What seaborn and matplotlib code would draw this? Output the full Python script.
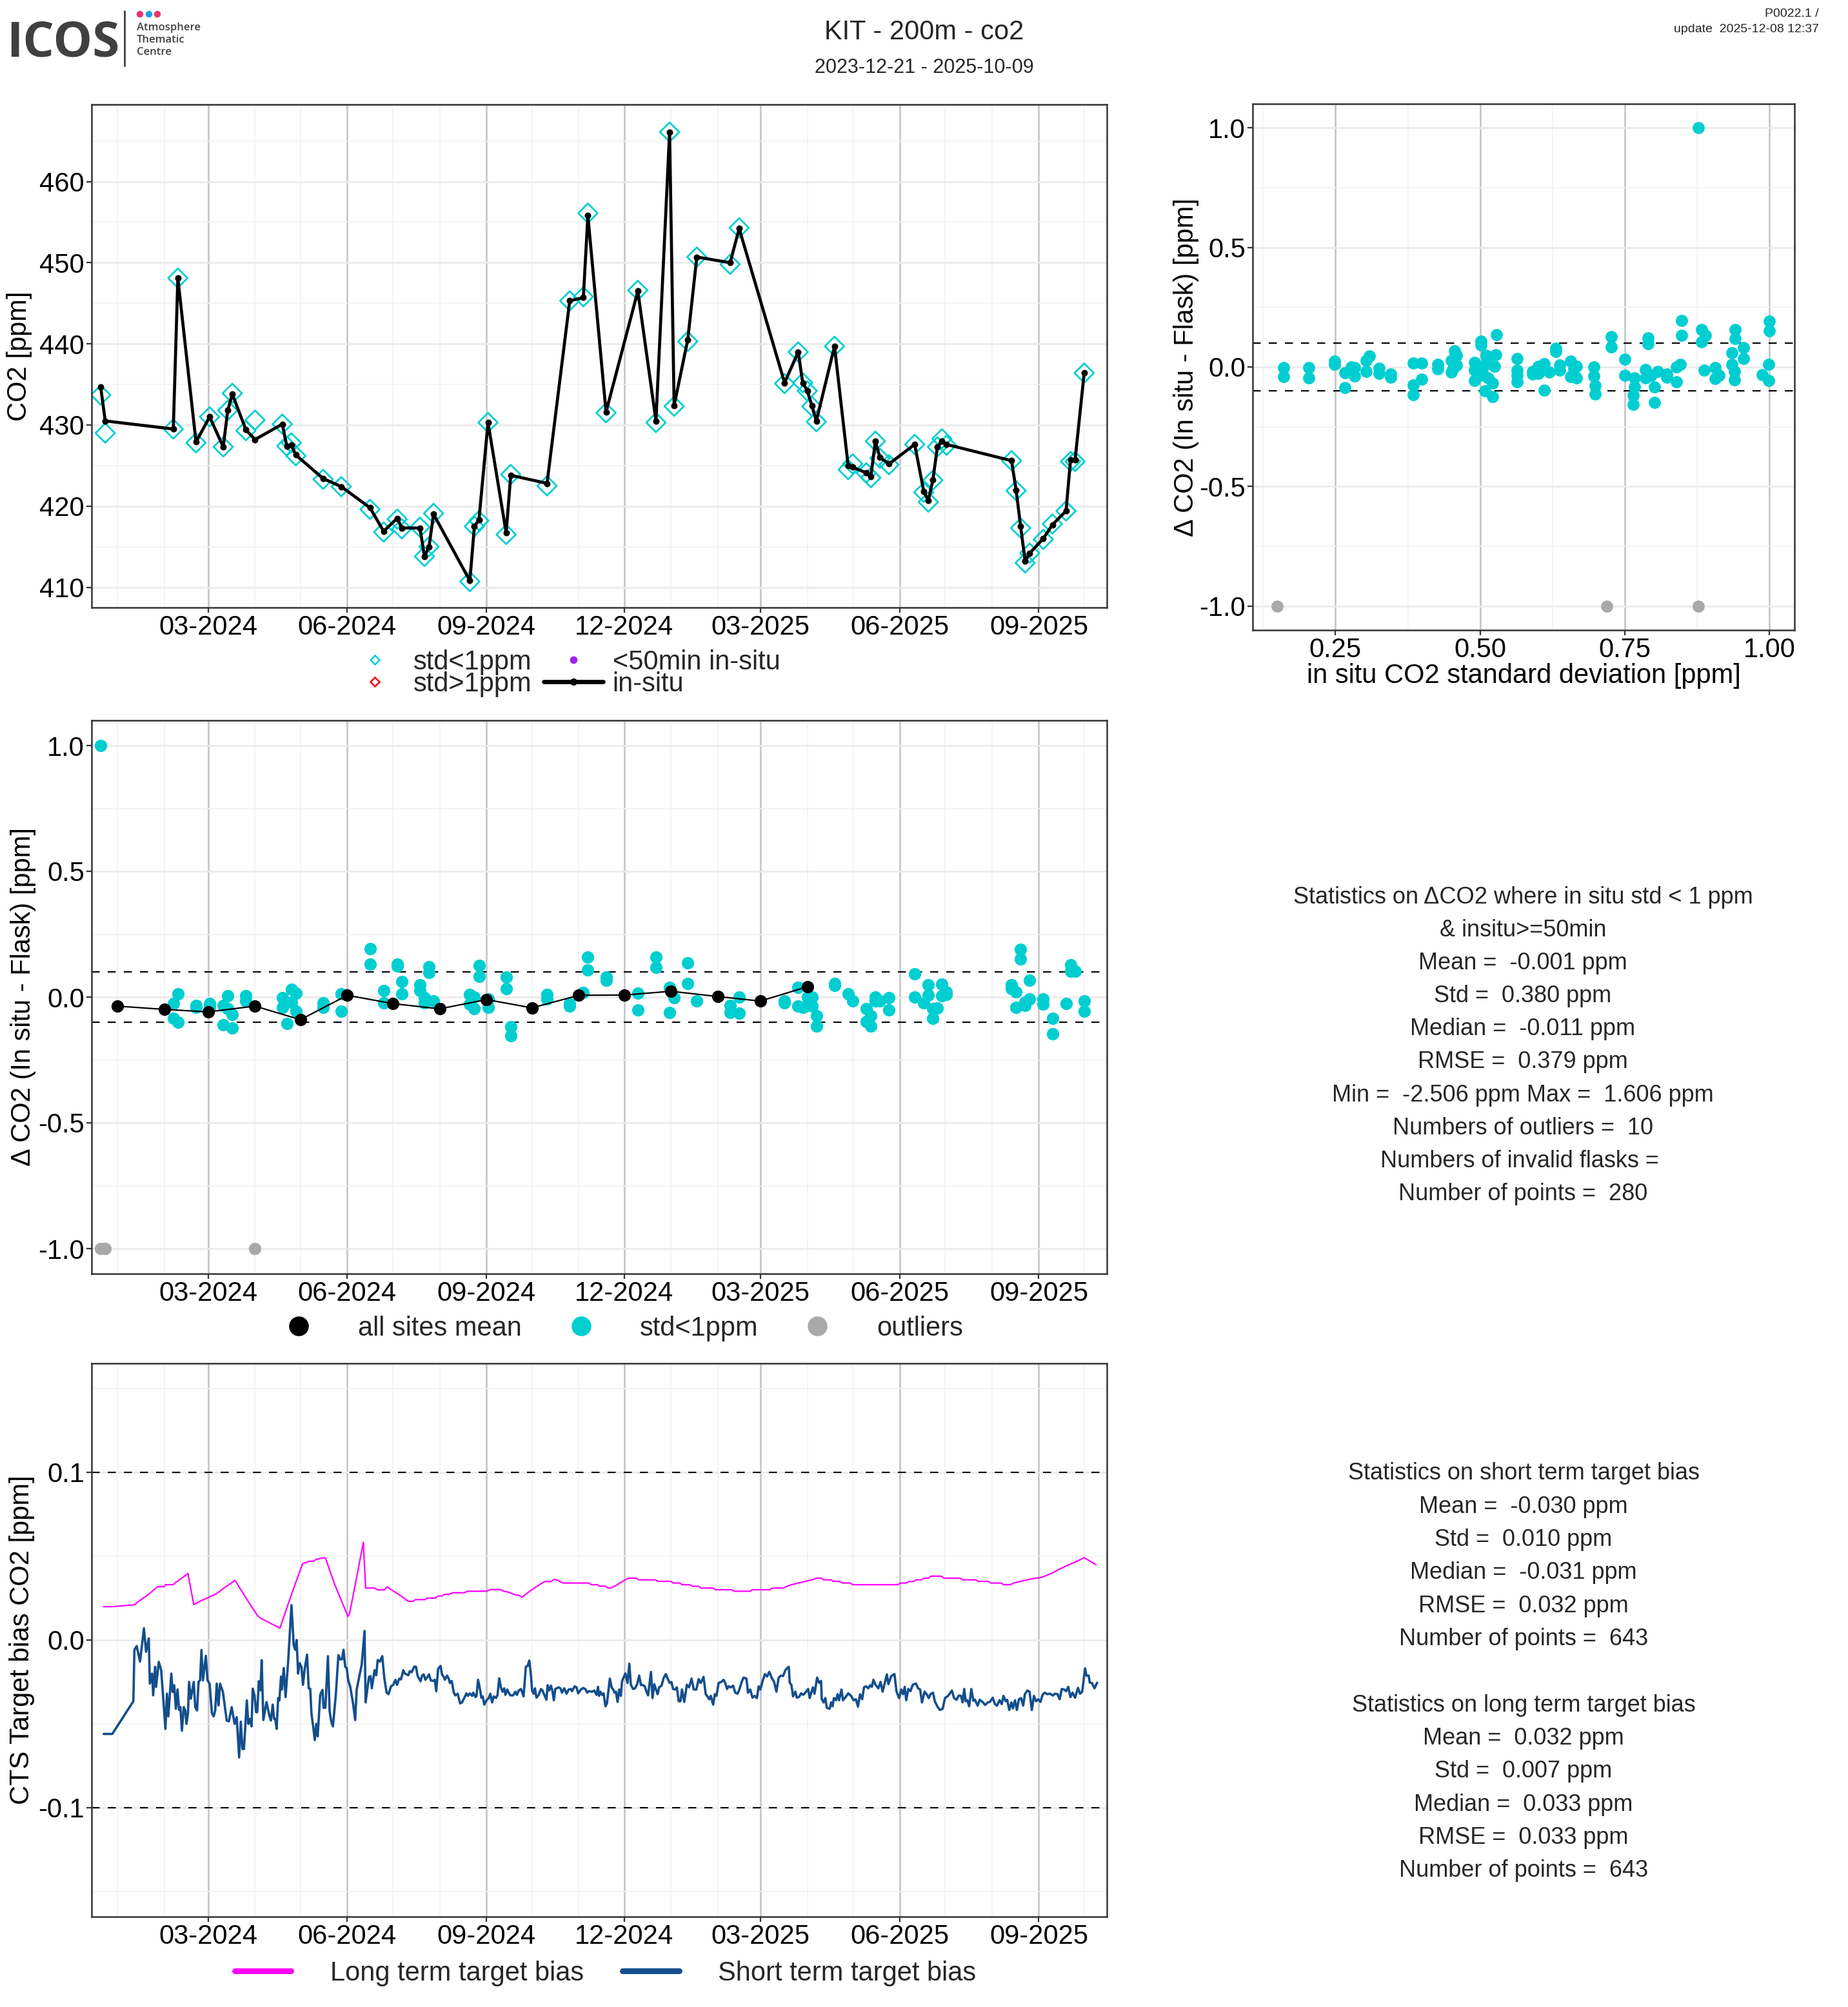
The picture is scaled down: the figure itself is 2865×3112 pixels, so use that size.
import matplotlib
matplotlib.use("Agg")
import matplotlib.pyplot as plt
import matplotlib.dates as mdates
import matplotlib.ticker as mticker
from matplotlib.lines import Line2D
import numpy as np
import pandas as pd
import seaborn as sns

sns.set_theme(style="white")
plt.rcParams['font.family'] = ['Liberation Sans', 'DejaVu Sans']
plt.rcParams['axes.unicode_minus'] = False

CYAN = '#00CED1'
GREY = '#A9A9A9'
MAGENTA = '#FF00FF'
NAVY = '#134E8C'

# ---- panel 1: flask vs in situ CO2 ----
ts_dates = ["2023-12-21", "2023-12-24", "2024-02-07", "2024-02-10", "2024-02-22", "2024-03-02", "2024-03-11", "2024-03-14", "2024-03-17", "2024-03-26",
            "2024-04-01", "2024-04-19", "2024-04-22", "2024-04-25", "2024-04-28", "2024-05-16", "2024-05-28", "2024-06-16", "2024-06-25", "2024-07-04",
            "2024-07-07", "2024-07-19", "2024-07-22", "2024-07-25", "2024-07-28", "2024-08-21", "2024-08-24", "2024-08-27", "2024-09-02", "2024-09-14",
            "2024-09-17", "2024-10-11", "2024-10-26", "2024-11-04", "2024-11-07", "2024-11-19", "2024-12-10", "2024-12-22", "2024-12-31", "2025-01-03",
            "2025-01-12", "2025-01-18", "2025-02-09", "2025-02-15", "2025-03-17", "2025-03-26", "2025-03-29", "2025-04-01", "2025-04-04", "2025-04-07",
            "2025-04-19", "2025-04-28", "2025-05-01", "2025-05-10", "2025-05-13", "2025-05-16", "2025-05-19", "2025-05-25", "2025-06-11", "2025-06-17",
            "2025-06-20", "2025-06-23", "2025-06-26", "2025-06-29", "2025-07-02", "2025-08-14", "2025-08-17", "2025-08-20", "2025-08-23", "2025-08-26",
            "2025-09-04", "2025-09-10", "2025-09-19", "2025-09-22", "2025-09-25", "2025-10-01"]
insitu_co2 = [434.7, 430.5, 429.5, 448.1, 427.9, 431.0, 427.3, 431.8, 433.8, 429.4,
              428.2, 430.1, 427.4, 427.5, 426.3, 423.4, 422.4, 419.8, 416.9, 418.5,
              417.3, 417.3, 413.8, 415.0, 419.0, 410.8, 417.5, 418.3, 430.3, 416.7,
              423.8, 422.8, 445.3, 445.7, 455.8, 431.6, 446.5, 430.5, 466.1, 432.4,
              440.5, 450.7, 450.0, 454.2, 435.2, 439.0, 435.2, 434.2, 432.4, 430.5,
              439.7, 425.0, 424.8, 424.1, 423.6, 428.0, 426.0, 425.2, 427.6, 421.8,
              420.7, 423.2, 427.3, 428.0, 427.6, 425.6, 422.0, 417.5, 413.2, 414.2,
              416.0, 417.7, 419.4, 425.7, 425.7, 436.4]
flask_co2 = [433.7, 429.0, 429.5, 448.1, 427.8, 431.0, 427.3, 431.8, 433.9, 429.3,
             430.6, 430.1, 427.4, 427.8, 426.2, 423.3, 422.4, 419.6, 416.8, 418.4,
             417.2, 417.4, 413.8, 415.0, 419.1, 410.7, 417.5, 418.2, 430.3, 416.5,
             423.9, 422.5, 445.3, 445.8, 456.1, 431.5, 446.6, 430.3, 466.1, 432.3,
             440.3, 450.7, 449.8, 454.3, 435.1, 439.0, 435.2, 434.2, 432.3, 430.4,
             439.7, 424.5, 425.2, 424.1, 423.5, 428.0, 425.9, 425.1, 427.6, 421.7,
             420.5, 423.2, 427.3, 428.3, 427.5, 425.6, 421.9, 417.3, 413.0, 414.2,
             415.9, 417.8, 419.4, 425.5, 425.5, 436.4]

# ---- panel 2: delta vs in situ std ----
std_x = [0.161, 0.161, 0.204, 0.204, 0.249, 0.249, 0.266, 0.266, 0.277, 0.283,
         0.283, 0.303, 0.303, 0.309, 0.325, 0.325, 0.345, 0.345, 0.384, 0.384,
         0.384, 0.399, 0.399, 0.427, 0.427, 0.450, 0.450, 0.456, 0.459, 0.459,
         0.454, 0.490, 0.490, 0.490, 0.501, 0.501, 0.506, 0.506, 0.508, 0.510,
         0.511, 0.514, 0.521, 0.521, 0.525, 0.527, 0.528, 0.564, 0.564, 0.564,
         0.564, 0.591, 0.591, 0.601, 0.601, 0.611, 0.611, 0.620, 0.631, 0.631,
         0.637, 0.637, 0.656, 0.656, 0.666, 0.666, 0.662, 0.697, 0.697, 0.699,
         0.699, 0.727, 0.727, 0.750, 0.750, 0.764, 0.764, 0.767, 0.767, 0.786,
         0.786, 0.790, 0.790, 0.796, 0.801, 0.801, 0.807, 0.822, 0.822, 0.839,
         0.839, 0.846, 0.848, 0.848, 0.877, 0.883, 0.883, 0.889, 0.887, 0.906,
         0.906, 0.913, 0.935, 0.935, 0.940, 0.940, 0.939, 0.939, 0.955, 0.955,
         0.987, 1.000, 1.000, 0.998, 0.998]
std_delta = [-0.003, -0.041, -0.003, -0.047, 0.023, 0.010, -0.025, -0.087, 0.000, -0.002,
             -0.039, -0.020, 0.026, 0.047, -0.005, -0.026, -0.031, -0.042, 0.015, -0.075,
             -0.116, 0.015, -0.051, 0.011, -0.007, 0.026, -0.021, 0.067, 0.049, 0.007,
             -0.005, 0.018, -0.013, -0.056, 0.108, 0.092, 0.003, -0.034, -0.100, 0.049,
             0.025, -0.047, -0.067, -0.123, 0.003, 0.052, 0.136, 0.036, -0.013, -0.034,
             -0.062, -0.018, -0.029, 0.003, -0.026, 0.013, -0.098, -0.021, 0.077, 0.065,
             0.008, -0.013, 0.023, -0.041, 0.003, -0.046, -0.008, 0.000, -0.039, -0.078,
             -0.114, 0.127, 0.083, 0.033, -0.036, -0.119, -0.157, -0.046, -0.083, -0.010,
             -0.046, 0.121, 0.098, -0.034, -0.083, -0.147, -0.018, -0.029, -0.042, 0.000,
             -0.062, 0.011, 0.194, 0.132, 1.000, 0.157, 0.105, 0.131, -0.013, -0.002,
             -0.049, -0.034, 0.060, 0.011, 0.157, 0.118, -0.018, -0.054, 0.080, 0.036,
             -0.033, 0.191, 0.150, 0.010, -0.057]
std_out_x = [0.149, 0.719, 0.877]
std_out_delta = [-1.0, -1.0, -1.0]

# ---- panel 3: delta time series ----
delta_dates = ["2023-12-21", "2024-02-07", "2024-02-07", "2024-02-10", "2024-02-10", "2024-02-22", "2024-02-22", "2024-03-02", "2024-03-02", "2024-03-11",
               "2024-03-11", "2024-03-14", "2024-03-14", "2024-03-17", "2024-03-17", "2024-03-26", "2024-03-26", "2024-04-19", "2024-04-19", "2024-04-22",
               "2024-04-25", "2024-04-25", "2024-04-28", "2024-04-28", "2024-05-16", "2024-05-16", "2024-05-28", "2024-05-28", "2024-06-16", "2024-06-16",
               "2024-06-25", "2024-06-25", "2024-07-04", "2024-07-04", "2024-07-07", "2024-07-07", "2024-07-19", "2024-07-19", "2024-07-22", "2024-07-22",
               "2024-07-25", "2024-07-25", "2024-07-28", "2024-08-21", "2024-08-21", "2024-08-24", "2024-08-24", "2024-08-27", "2024-08-27", "2024-09-02",
               "2024-09-02", "2024-09-14", "2024-09-14", "2024-09-17", "2024-09-17", "2024-10-11", "2024-10-11", "2024-10-26", "2024-10-26", "2024-11-04",
               "2024-11-07", "2024-11-07", "2024-11-19", "2024-11-19", "2024-12-10", "2024-12-10", "2024-12-22", "2024-12-22", "2024-12-31", "2024-12-31",
               "2025-01-03", "2025-01-12", "2025-01-12", "2025-01-18", "2025-02-09", "2025-02-09", "2025-02-15", "2025-02-15", "2025-03-17", "2025-03-17",
               "2025-03-26", "2025-03-26", "2025-03-29", "2025-04-01", "2025-04-01", "2025-04-04", "2025-04-04", "2025-04-07", "2025-04-07", "2025-04-19",
               "2025-04-19", "2025-04-28", "2025-05-01", "2025-05-10", "2025-05-10", "2025-05-13", "2025-05-13", "2025-05-16", "2025-05-16", "2025-05-19",
               "2025-05-25", "2025-05-25", "2025-06-11", "2025-06-11", "2025-06-17", "2025-06-20", "2025-06-20", "2025-06-23", "2025-06-23", "2025-06-26",
               "2025-06-29", "2025-06-29", "2025-07-02", "2025-07-02", "2025-08-14", "2025-08-14", "2025-08-17", "2025-08-17", "2025-08-20", "2025-08-20",
               "2025-08-23", "2025-08-23", "2025-08-26", "2025-08-26", "2025-09-04", "2025-09-04", "2025-09-10", "2025-09-10", "2025-09-19", "2025-09-22",
               "2025-09-22", "2025-09-25", "2025-10-01", "2025-10-01"]
delta_vals = [1.000, -0.025, -0.085, 0.013, -0.100, -0.033, -0.040, -0.025, -0.040, -0.033,
              -0.110, 0.005, -0.045, -0.069, -0.123, 0.005, -0.015, -0.003, -0.040, -0.105,
              0.030, -0.020, 0.016, -0.056, -0.023, -0.041, 0.013, -0.057, 0.193, 0.131,
              0.026, -0.023, 0.131, 0.123, 0.062, 0.013, 0.049, 0.025, -0.003, -0.023,
              0.121, 0.098, -0.016, 0.010, -0.028, 0.000, -0.047, 0.126, 0.082, -0.008,
              -0.041, 0.080, 0.034, -0.118, -0.155, 0.010, -0.008, -0.026, -0.036, 0.018,
              0.159, 0.108, 0.079, 0.067, 0.016, -0.052, 0.159, 0.119, 0.038, -0.061,
              -0.003, 0.136, 0.054, -0.016, -0.033, -0.061, 0.000, -0.064, -0.016, -0.023,
              0.038, -0.036, -0.040, 0.000, -0.033, 0.000, -0.036, -0.074, -0.115, 0.054,
              0.046, 0.013, -0.015, -0.047, -0.098, -0.074, -0.115, 0.000, -0.016, -0.016,
              -0.003, -0.052, 0.092, 0.000, -0.023, 0.049, 0.008, -0.047, -0.085, -0.044,
              0.051, 0.005, 0.021, 0.010, 0.049, 0.033, 0.021, -0.040, 0.191, 0.152,
              -0.020, -0.033, 0.067, -0.007, -0.007, -0.028, -0.085, -0.147, -0.025, 0.128,
              0.103, 0.103, -0.016, -0.057]
outlier_dates = ["2023-12-21", "2023-12-24", "2024-04-01"]
outlier_vals = [-1.0, -1.0, -1.0]
mean_dates = ["2024-01-01", "2024-02-01", "2024-03-01", "2024-04-01", "2024-05-01", "2024-06-01", "2024-07-01", "2024-08-01",
              "2024-09-01", "2024-10-01", "2024-11-01", "2024-12-01", "2025-01-01", "2025-02-01", "2025-03-01", "2025-04-01"]
mean_vals = [-0.036, -0.049, -0.059, -0.036, -0.090, 0.007, -0.026, -0.047,
             -0.010, -0.043, 0.007, 0.008, 0.023, 0.002, -0.016, 0.041]

# ---- panel 4: CTS target bias (days since bias_start) ----
bias_start = "2023-12-21"
short_day = [2, 7.7, 21.6, 22.3, 23.8, 26, 28.6, 30, 31.8, 32.5,
             34, 34.7, 36, 36.6, 38.4, 40, 42.8, 43.8, 44.7, 46.7,
             47.6, 48.6, 49.7, 50.8, 51.8, 52.7, 53.7, 54.9, 55.9, 56.7,
             57.7, 58.4, 59.6, 61.5, 62.5, 63.7, 64.7, 65.7, 66.6, 67.6,
             69.5, 70.6, 72, 73.5, 74.7, 75.7, 76.7, 77.9, 78.9, 80.8,
             83.3, 84.7, 86.6, 88.5, 89.9, 91.5, 92.6, 93.7, 94.7, 96.6,
             97.6, 98.6, 99.7, 100.5, 101.7, 102.7, 103.5, 104.5, 105.6, 106.4,
             107.5, 109.6, 111.5, 112.5, 113.7, 114.6, 115.4, 116.3, 117.3, 118.1,
             119.2, 119.8, 121, 122.2, 123.9, 126.1, 127.6, 128.6, 129.5, 130.5,
             131.5, 132.7, 133.7, 134.9, 136.4, 137.5, 138.5, 139.3, 140.4, 141.5,
             142.5, 143.4, 145.1, 146.6, 147.3, 148.5, 150.2, 151.3, 152.4, 153.5,
             155.4, 157.1, 158.3, 159.5, 160.5, 161.6, 162.6, 163.7, 164.9, 166.8,
             168.2, 169.2, 172.5, 174.4, 175.1, 177.3, 178.3, 179.2, 181, 182.1,
             183.1, 184.6, 186.1, 187.5, 189, 190.2, 191.9, 193.4, 194.8, 195.9,
             197.3, 198.5, 200, 201.1, 203.3, 204.3, 205.5, 207.3, 208.4, 209.5,
             211.4, 212.4, 213.5, 214.6, 215.7, 217, 218.2, 219.7, 220.8, 221.8,
             223,
             224.6, 225.6, 226.6, 227.5, 228.9, 230, 230.8, 232, 233.4, 234.4,
             235.9, 237.6, 238.8, 240.3, 241.7, 242.7, 244, 245.5, 246.2, 247.7,
             248.4, 249.4, 250.6, 251.6, 252.5, 253.5, 255, 256.5, 257.5, 258.7,
             259.8, 261.3, 262.3, 263.4, 264.5, 265.6, 266.7, 267.5, 268.7, 269.7,
             270.7, 272.6, 274.1, 275.1, 276.3, 277.8, 279.5, 281, 282.2, 283.3,
             284.4, 285.1, 286.1, 287, 288, 289.5, 291, 292, 293.2, 294.6,
             295.4, 296.4, 297.6, 298.6, 299.5, 300.5, 302.7, 303.9, 304.9, 306.4,
             307.9, 309.3, 310.8, 311.5, 313.3, 314.5, 315.6, 317.4, 318.9, 320.3,
             321.5, 322.5, 324.8, 326.2, 327.7, 328.7, 329.4, 330.3, 331.4, 332.4,
             333.6, 334.6, 336.5, 337.7, 338.7, 339.7, 340.6, 341.6, 342.7, 343.8,
             344.6, 346.8, 348.2, 349.4, 350.4, 351.9, 353.1, 354.6, 355.9, 357.1,
             358.1, 359.6, 360.7, 361.8, 363.7, 364.7, 365.9, 367, 368.1, 369.1,
             370.7, 372, 373.5, 374.7, 376.1, 377.2, 378.3, 379.8, 380.8, 382,
             383.2, 384.2, 385.7, 387.4, 388.9, 390.5, 392, 393.7, 395.2, 396.6,
             398.4, 399.9, 401, 402.2, 403.2, 404.8, 405.9, 407, 408.4, 410.2,
             411.7, 412.8, 414, 415, 416.5, 418, 419.4, 420.9, 422.1, 423.9,
             424.9, 426.8, 427.8, 429.3, 430.8, 432.2, 433.7, 434.9, 436, 437.5,
             439, 440.4, 441.9, 443.4, 445.1, 446.6, 448.1, 449.6, 451, 452.5,
             453.7,
             454.8, 455.4, 456.5, 457.6, 459.1, 460.1, 461.5, 462.9, 464.3, 465.7,
             467.6, 468.6, 470.7, 471.8, 473.5, 474.9, 476.1, 476.6, 477.8, 478.9,
             479.9, 481.8, 482.8, 483.7, 484.6, 486, 487, 488, 489.6, 490.6,
             492, 494.1, 496, 497.6, 499.1, 500.5, 501.9, 503.3, 504.5, 505.9,
             507.3, 508.7, 509.7, 510.7, 512.1, 514, 515.4, 516.8, 518.2, 519.6,
             520.6, 522.5, 524.6, 526, 527.7, 529.1, 530.3, 531.4, 532.4, 533.8,
             535.2, 536.7, 538.8, 540.2, 541.6, 542.8, 544.5, 545.9, 547.3, 548.4,
             550.1, 551.3, 553, 554.7, 556.5, 558, 560.1, 562.6, 564, 565.7,
             567.1, 568.6, 569.7, 570.7, 571.7, 572.8, 574, 575.4, 576.8, 577.8,
             579.6, 581, 582.8, 584.5, 586.3, 587.7, 589.6, 591, 592.4, 594.1,
             595.5, 596.7, 598.1, 599.1, 600.5, 601.9, 602.9, 604.3, 605.5, 606.9,
             608.3, 609.7, 610.8, 612.5, 613.9, 615.4, 616.8, 618.2, 619.6, 621.1,
             622.5, 623.9, 625.6, 627.4, 629.3, 630.7, 632.4, 633.8, 635.2, 636.7,
             638.1, 639.5, 640.9, 642.3, 644, 645.9, 647.3, 648.7, 650.6, 651.5,
             653, 653.7, 655.1, 656.8, 658.6]
short_bias = [-0.056, -0.056, -0.0365, -0.0058, -0.0036, -0.0128, 0.007, -0.007, 0.001, -0.026,
              -0.020, -0.033, -0.016, -0.028, -0.013, -0.018, -0.053, -0.032, -0.0455, -0.020,
              -0.031, -0.027, -0.041, -0.0295, -0.0417, -0.040, -0.054, -0.040, -0.042, -0.050,
              -0.0436, -0.025, -0.035, -0.025, -0.040, -0.042, -0.025, -0.024, -0.006, -0.024,
              -0.0094, -0.024, -0.026, -0.0436, -0.0455, -0.042, -0.026, -0.039, -0.026, -0.031,
              -0.048, -0.0485, -0.040, -0.050, -0.046, -0.070, -0.0487, -0.065, -0.065, -0.036,
              -0.050, -0.047, -0.0515, -0.029, -0.033, -0.043, -0.043, -0.0246, -0.030, -0.012,
              -0.0477, -0.037, -0.045, -0.048, -0.0385, -0.047, -0.047, -0.053, -0.0346, -0.036,
              -0.0218, -0.0295, -0.0167, -0.034, -0.0128, 0.0208, -0.0032, -0.0058, 0.0, -0.020,
              -0.0138, -0.016, -0.0267, -0.0167, -0.0087, -0.0288, -0.029, -0.0436, -0.0513, -0.0596,
              -0.050, -0.0574, -0.0327, -0.0297, -0.0404, -0.0404, -0.0096, -0.0423, -0.0487, -0.0515,
              -0.0327, -0.009, -0.0115, -0.0115, -0.0058, -0.016, -0.0167, -0.0244, -0.0276, -0.0378,
              -0.0477, -0.0295, -0.0147, 0.0054, -0.0372, -0.022, -0.0215, -0.0288, -0.018, -0.021,
              -0.0119, -0.0128, -0.0096, -0.023, -0.0314, -0.0323, -0.0276, -0.0267, -0.0237, -0.0267,
              -0.023, -0.0235, -0.018, -0.020, -0.021, -0.0186, -0.0192, -0.0158, -0.016, -0.0215,
              -0.0246, -0.0212, -0.0205, -0.0237, -0.0224, -0.0205, -0.0241, -0.0244, -0.0237, -0.0305,
              -0.0173,
              -0.0154, -0.0205, -0.0218, -0.0237, -0.0212, -0.023, -0.0256, -0.0244, -0.0314, -0.033,
              -0.032, -0.0378, -0.0372, -0.0346, -0.0318, -0.0333, -0.0318, -0.0333, -0.0314, -0.034,
              -0.0333, -0.0237, -0.0288, -0.0344, -0.0336, -0.0385, -0.0359, -0.0346, -0.032, -0.0372,
              -0.0336, -0.0346, -0.0327, -0.0228, -0.0282, -0.0308, -0.0288, -0.0327, -0.0295, -0.0314,
              -0.033, -0.033, -0.0308, -0.0327, -0.0301, -0.0292, -0.0336, -0.016, -0.0154, -0.0122,
              -0.0212, -0.0301, -0.032, -0.0288, -0.0344, -0.0327, -0.0292, -0.0301, -0.0327, -0.0356,
              -0.0269, -0.0301, -0.0272, -0.0305, -0.0359, -0.0292, -0.0282, -0.0288, -0.0314, -0.0288,
              -0.032, -0.0295, -0.0292, -0.0305, -0.0276, -0.0282, -0.0318, -0.0295, -0.0286, -0.0292,
              -0.0314, -0.0305, -0.0308, -0.0301, -0.0327, -0.0279, -0.0333, -0.0308, -0.0327, -0.0318,
              -0.0395, -0.0378, -0.023, -0.0282, -0.0295, -0.0314, -0.0308, -0.0369, -0.0295, -0.0333,
              -0.0244, -0.0199, -0.0256, -0.0141, -0.0267, -0.0292, -0.0288, -0.0263, -0.0212, -0.0269,
              -0.0267, -0.0276, -0.0308, -0.033, -0.019, -0.0346, -0.0263, -0.0295, -0.0323, -0.0282,
              -0.0272, -0.0228, -0.0203, -0.023, -0.0256, -0.025, -0.0292, -0.0295, -0.0282, -0.0365,
              -0.0365, -0.0295, -0.0369, -0.0267, -0.0282, -0.023, -0.0295, -0.0295, -0.0233, -0.0256,
              -0.022, -0.0323, -0.0336, -0.0353, -0.0333, -0.0385, -0.0323, -0.0333, -0.0256, -0.025,
              -0.0237, -0.0256, -0.0292, -0.0276, -0.0282, -0.0272, -0.0314, -0.032, -0.0295, -0.0244,
              -0.0224, -0.023, -0.0314, -0.0295, -0.0344, -0.0333, -0.0346, -0.0276, -0.0295, -0.0244,
              -0.0203, -0.0218, -0.019, -0.0224, -0.025, -0.0308, -0.0224, -0.0212, -0.0215, -0.018,
              -0.0167,
              -0.016, -0.0256, -0.0267, -0.0336, -0.0308, -0.0344, -0.034, -0.0318, -0.0327, -0.0314,
              -0.0292, -0.0346, -0.0282, -0.032, -0.0224, -0.0256, -0.0244, -0.0353, -0.0372, -0.0346,
              -0.0404, -0.041, -0.0372, -0.0395, -0.0346, -0.0359, -0.0323, -0.0359, -0.0295, -0.0359,
              -0.0344, -0.0318, -0.0333, -0.0359, -0.0353, -0.0397, -0.0323, -0.0353, -0.0282, -0.0276,
              -0.0288, -0.0269, -0.0279, -0.0237, -0.0267, -0.0288, -0.025, -0.0308, -0.0256, -0.0205,
              -0.0263, -0.0215, -0.0203, -0.0308, -0.0346, -0.0295, -0.0323, -0.0279, -0.0359, -0.0292,
              -0.0305, -0.0267, -0.0259, -0.0288, -0.0295, -0.0372, -0.0308, -0.0323, -0.0346, -0.0323,
              -0.0314, -0.0365, -0.0397, -0.0417, -0.041, -0.0346, -0.0333, -0.0301, -0.0346, -0.0356,
              -0.0331, -0.0333, -0.0372, -0.0292, -0.0365, -0.0359, -0.0395, -0.0292, -0.0362, -0.0356,
              -0.0391, -0.0356, -0.0369, -0.0387, -0.0372, -0.0369, -0.0344, -0.0382, -0.0391, -0.0359,
              -0.0382, -0.0333, -0.0365, -0.0356, -0.0417, -0.0372, -0.0408, -0.0359, -0.0417, -0.0353,
              -0.0346, -0.0391, -0.0323, -0.0301, -0.0308, -0.0417, -0.0333, -0.0365, -0.0353, -0.0369,
              -0.0327, -0.0314, -0.0323, -0.032, -0.0331, -0.032, -0.0323, -0.0353, -0.0292, -0.0295,
              -0.0305, -0.0279, -0.034, -0.0314, -0.0344, -0.0285, -0.032, -0.0308, -0.0169, -0.0212,
              -0.0212, -0.0254, -0.0256, -0.0288, -0.0254]
long_day = [1.8, 7.7, 22.3, 24.5, 31.1, 37.7, 42.1, 42.8, 47.9, 49.4,
            53, 57.7, 61.5, 66.9, 71.3, 76.4, 81.5, 88.8, 96.1, 103.5,
            105.6, 118.5, 125.4, 133.4, 135.6, 137.8, 140.7, 142.2, 146.6, 148.5,
            154.6, 163.4, 164.4, 169, 173.6, 175.1, 181, 183.1, 187.5, 189.3,
            192.6, 198.5, 203.3, 206.5, 208, 214.6, 215.7, 221.1, 223,
            225.6, 227.1, 230, 232.5, 240.3, 242.5, 255, 257.5, 264.5, 266,
            269.7, 271.9, 274.1, 276.3, 278.5, 282.2, 286.6, 291.7, 293.6, 297.6,
            299.8, 301.3, 305.7, 322.5, 324.5, 328.4, 329.4, 333.6, 335.3, 337.2,
            340.9, 343.8, 346.8, 349, 354.1, 355.6, 366.6, 368.5, 376.9, 378.3,
            382.8, 384.2, 389.4, 390.8, 395.2, 396.7, 404.8, 406.3, 417, 418.8,
            429, 430.8, 442.2, 443.7, 451, 453.7,
            456.5, 459.4, 460.8, 464.3, 467.9, 471.4, 472.8, 476.4, 477.8, 482.8,
            484.2, 488.4, 490.3, 495.5, 496.9, 526.7, 528.8, 532.4, 534.2, 537.4,
            538.8, 542.3, 544.5, 547.3, 548.7, 555.5, 557.5, 567.9, 570, 578.5,
            579.9, 586.7, 588.4, 595.2, 596.7, 601.2, 603.3, 607.6, 612.5, 616.8,
            621.1, 623.9, 628.2, 632.4, 638.1, 643.7, 650.1, 657.9]
long_bias = [0.0199, 0.0199, 0.021, 0.0227, 0.0269, 0.0318, 0.0318, 0.033, 0.033, 0.0342,
             0.0365, 0.0397, 0.0212, 0.0237, 0.0254, 0.0276, 0.031, 0.0356, 0.025, 0.0147,
             0.0131, 0.0071, 0.0254, 0.0455, 0.0462, 0.047, 0.047, 0.048, 0.049, 0.049,
             0.0333, 0.0141, 0.0154, 0.0365, 0.0583, 0.031, 0.031, 0.0299, 0.0299, 0.0317,
             0.0297, 0.0263, 0.0231, 0.0231, 0.0241, 0.0241, 0.025, 0.025, 0.0262,
             0.0263, 0.0272, 0.0272, 0.0282, 0.0282, 0.0291, 0.0291, 0.0301, 0.0301, 0.0292,
             0.0285, 0.0277, 0.0269, 0.0267, 0.0256, 0.0282, 0.031, 0.034, 0.0349, 0.0349,
             0.0362, 0.0359, 0.034, 0.034, 0.033, 0.033, 0.0321, 0.0321, 0.031, 0.031,
             0.0327, 0.0344, 0.0359, 0.0369, 0.0369, 0.0359, 0.0359, 0.035, 0.035, 0.034,
             0.034, 0.033, 0.033, 0.0321, 0.0321, 0.031, 0.031, 0.03, 0.03, 0.0291,
             0.0291, 0.03, 0.03, 0.031, 0.031, 0.0321,
             0.033, 0.0336, 0.034, 0.0346, 0.0355, 0.0362, 0.0369, 0.0369, 0.0359, 0.0359,
             0.035, 0.035, 0.034, 0.034, 0.033, 0.033, 0.034, 0.034, 0.0349, 0.0349,
             0.0359, 0.0359, 0.0369, 0.0369, 0.0381, 0.0381, 0.0369, 0.0369, 0.0359, 0.0359,
             0.035, 0.035, 0.034, 0.034, 0.033, 0.033, 0.034, 0.0349, 0.0359, 0.0368,
             0.0372, 0.0381, 0.0397, 0.0417, 0.0442, 0.0464, 0.0491, 0.0449]

stats_flask = ["Statistics on \u0394CO2 where in situ std < 1 ppm", "& insitu>=50min", "Mean =  -0.001 ppm",
               "Std =  0.380 ppm", "Median =  -0.011 ppm", "RMSE =  0.379 ppm",
               "Min =  -2.506 ppm Max =  1.606 ppm", "Numbers of outliers =  10",
               "Numbers of invalid flasks = ", "Number of points =  280"]
stats_bias = ["Statistics on short term target bias", "Mean =  -0.030 ppm", "Std =  0.010 ppm",
              "Median =  -0.031 ppm", "RMSE =  0.032 ppm", "Number of points =  643", "",
              "Statistics on long term target bias", "Mean =  0.032 ppm", "Std =  0.007 ppm",
              "Median =  0.033 ppm", "RMSE =  0.033 ppm", "Number of points =  643"]

x_start, x_end = pd.Timestamp("2023-12-15"), pd.Timestamp("2025-10-16")
ts_x = pd.to_datetime(ts_dates)
delta_x = pd.to_datetime(delta_dates)
out_x = pd.to_datetime(outlier_dates)
mean_x = pd.to_datetime(mean_dates)
short_x = pd.Timestamp(bias_start) + pd.to_timedelta(short_day, unit="D")
long_x = pd.Timestamp(bias_start) + pd.to_timedelta(long_day, unit="D")

W, H = 2865, 3112
fig = plt.figure(figsize=(W / 200, H / 200), dpi=200)


def px_axes(left, top, right, bottom):
    return fig.add_axes([left / W, 1 - bottom / H, (right - left) / W, (bottom - top) / H])


def frame(ax):
    ax.set_facecolor('white')
    for sp in ax.spines.values():
        sp.set_visible(True)
        sp.set_color('#333333')
        sp.set_linewidth(0.9)
    ax.grid(True, which='minor', color='#f2f2f2', linewidth=0.6)
    ax.grid(True, which='major', axis='y', color='#ebebeb', linewidth=1.0)
    ax.grid(True, which='major', axis='x', color='#c8c8c8', linewidth=1.0)
    ax.set_axisbelow(True)
    ax.tick_params(which='major', direction='out', length=3, width=0.8, color='#333333',
                   labelsize=15, labelcolor='black', pad=1.0, left=True, bottom=True)
    ax.tick_params(which='minor', length=0, left=False, bottom=False)


def date_axis(ax):
    ax.xaxis.set_major_locator(mdates.MonthLocator(bymonth=[3, 6, 9, 12]))
    ax.xaxis.set_minor_locator(mdates.MonthLocator())
    ax.xaxis.set_major_formatter(mdates.DateFormatter('%m-%Y'))
    ax.set_xlim(x_start, x_end)
    ax.set_xlabel('')


def dashed(ax):
    for yv in (0.1, -0.1):
        ax.axhline(yv, color='black', linewidth=0.75, linestyle=(0, (6, 6)), zorder=1.5)


ax_ts = px_axes(142, 162, 1716, 942)
ax_sd = px_axes(1942, 161, 2782, 977)
ax_dl = px_axes(142, 1117, 1716, 1975)
ax_tb = px_axes(142, 2114, 1716, 2972)

# panel 1
sns.scatterplot(x=ts_x, y=flask_co2, ax=ax_ts, marker='D', s=58, facecolors='none',
                edgecolor=CYAN, linewidth=1.0, zorder=2)
sns.lineplot(x=ts_x, y=insitu_co2, ax=ax_ts, color='black', linewidth=1.7, marker='o',
             markersize=3.6, markeredgewidth=0, estimator=None, sort=False, zorder=3)
frame(ax_ts)
date_axis(ax_ts)
ax_ts.set_ylim(407.5, 469.5)
ax_ts.yaxis.set_major_locator(mticker.MultipleLocator(10))
ax_ts.yaxis.set_minor_locator(mticker.MultipleLocator(5))
ax_ts.set_ylabel('CO2 [ppm]', fontsize=15, color='black')
ax_ts.yaxis.set_label_coords(-0.0585, 0.5)
h_ts = [Line2D([], [], ls='none', marker='D', ms=3.8, mfc='none', mec=CYAN, mew=0.9, label='std<1ppm'),
        Line2D([], [], ls='none', marker='D', ms=3.8, mfc='none', mec='red', mew=0.9, label='std>1ppm'),
        Line2D([], [], ls='none', marker='o', ms=3.2, color='#A020F0', label='<50min in-situ'),
        Line2D([], [], color='black', lw=2.4, marker='o', ms=3, label='in-situ')]
ax_ts.legend(handles=h_ts, ncol=2, loc='upper center', bbox_to_anchor=(0.4638, -0.083),
             frameon=False, fontsize=15, handlelength=2.2, handletextpad=0.35,
             columnspacing=0.45, labelspacing=-0.14, borderpad=0, borderaxespad=0)

# panel 2
sns.scatterplot(x=std_x, y=std_delta, ax=ax_sd, color=CYAN, s=46, linewidth=0, zorder=2)
sns.scatterplot(x=std_out_x, y=std_out_delta, ax=ax_sd, color=GREY, s=46, linewidth=0, zorder=2)
frame(ax_sd)
dashed(ax_sd)
ax_sd.set_xlim(0.107, 1.043)
ax_sd.set_ylim(-1.1, 1.1)
ax_sd.xaxis.set_major_locator(mticker.MultipleLocator(0.25))
ax_sd.xaxis.set_minor_locator(mticker.MultipleLocator(0.125))
ax_sd.yaxis.set_major_locator(mticker.MultipleLocator(0.5))
ax_sd.yaxis.set_minor_locator(mticker.MultipleLocator(0.25))
ax_sd.xaxis.set_major_formatter(mticker.FormatStrFormatter('%.2f'))
ax_sd.yaxis.set_major_formatter(mticker.FormatStrFormatter('%.1f'))
ax_sd.set_ylabel('\u0394 CO2 (In situ - Flask) [ppm]', fontsize=15, color='black')
ax_sd.yaxis.set_label_coords(-0.099, 0.5)
ax_sd.set_xlabel('in situ CO2 standard deviation [ppm]', fontsize=15, color='black')
ax_sd.xaxis.set_label_coords(0.5, -0.062)

# panel 3
sns.scatterplot(x=delta_x, y=delta_vals, ax=ax_dl, color=CYAN, s=48, linewidth=0, zorder=2)
sns.scatterplot(x=out_x, y=outlier_vals, ax=ax_dl, color=GREY, s=48, linewidth=0, zorder=2)
sns.lineplot(x=mean_x, y=mean_vals, ax=ax_dl, color='black', linewidth=0.8, estimator=None, zorder=3)
sns.scatterplot(x=mean_x, y=mean_vals, ax=ax_dl, color='black', s=48, linewidth=0, zorder=4)
frame(ax_dl)
dashed(ax_dl)
date_axis(ax_dl)
ax_dl.set_ylim(-1.1, 1.1)
ax_dl.yaxis.set_major_locator(mticker.MultipleLocator(0.5))
ax_dl.yaxis.set_minor_locator(mticker.MultipleLocator(0.25))
ax_dl.yaxis.set_major_formatter(mticker.FormatStrFormatter('%.1f'))
ax_dl.set_ylabel('\u0394 CO2 (In situ - Flask) [ppm]', fontsize=15, color='black')
ax_dl.yaxis.set_label_coords(-0.0546, 0.5)
h_dl = [Line2D([], [], ls='none', marker='o', ms=10, color='black', label='all sites mean'),
        Line2D([], [], ls='none', marker='o', ms=10, color=CYAN, label='std<1ppm'),
        Line2D([], [], ls='none', marker='o', ms=10, color=GREY, label='outliers')]
ax_dl.legend(handles=h_dl, ncol=3, loc='upper center', bbox_to_anchor=(0.518, -0.0757),
             frameon=False, fontsize=15, handlelength=2.0, handletextpad=1.2,
             columnspacing=1.2, borderpad=0, borderaxespad=0)

# panel 4
sns.lineplot(x=long_x, y=long_bias, ax=ax_tb, color=MAGENTA, linewidth=0.8, estimator=None, sort=False, zorder=3)
sns.lineplot(x=short_x, y=short_bias, ax=ax_tb, color=NAVY, linewidth=1.3, estimator=None, sort=False, zorder=3)
frame(ax_tb)
dashed(ax_tb)
date_axis(ax_tb)
ax_tb.set_ylim(-0.165, 0.165)
ax_tb.yaxis.set_major_locator(mticker.MultipleLocator(0.1))
ax_tb.yaxis.set_minor_locator(mticker.MultipleLocator(0.05))
ax_tb.yaxis.set_major_formatter(mticker.FormatStrFormatter('%.1f'))
ax_tb.set_ylabel('CTS Target bias CO2 [ppm]', fontsize=15, color='black')
ax_tb.yaxis.set_label_coords(-0.056, 0.5)
h_tb = [Line2D([], [], color=MAGENTA, lw=3.2, label='Long term target bias'),
        Line2D([], [], color=NAVY, lw=3.2, label='Short term target bias')]
ax_tb.legend(handles=h_tb, ncol=2, loc='upper center', bbox_to_anchor=(0.506, -0.0793),
             frameon=False, fontsize=15, handlelength=2.1, handletextpad=1.45,
             columnspacing=1.45, borderpad=0, borderaxespad=0)

# statistics text
for i, line in enumerate(stats_flask):
    fig.text(2361 / W, 1 - (1391 + 51.2 * i) / H, line, ha='center', va='center', fontsize=13)
for i, line in enumerate(stats_bias):
    fig.text(2362 / W, 1 - (2285 + 51.3 * i) / H, line, ha='center', va='center', fontsize=13)

# header
fig.text(0.5, 1 - 50 / H, 'KIT - 200m - co2', ha='center', va='center', fontsize=15)
fig.text(0.5, 1 - 105 / H, '2023-12-21 - 2025-10-09', ha='center', va='center', fontsize=11)
fig.text(2820 / W, 1 - 22 / H, 'P0022.1 /', ha='right', va='center', fontsize=7)
fig.text(2820 / W, 1 - 46 / H, 'update  2025-12-08 12:37', ha='right', va='center', fontsize=7)

# ICOS logo
lax = fig.add_axes([0, 1 - 110 / H, 340 / W, 110 / H])
lax.set_xlim(0, 340)
lax.set_ylim(110, 0)
lax.axis('off')
lax.text(10, 87, 'ICOS', fontsize=27.5, fontweight='bold', family=['Open Sans', 'DejaVu Sans'],
         color='#404040', ha='left', va='baseline')
lax.plot([193, 193], [17, 102], color='#404040', lw=1.0)
lax.scatter([217, 231, 244], [22, 22, 22], s=14, color=['#E8336E', '#1D9FE8', '#E8336E'], linewidth=0)
for j, word in enumerate(['Atmosphere', 'Thematic', 'Centre']):
    lax.text(212, 47 + 19 * j, word, fontsize=6, fontweight='semibold', family=['Open Sans', 'DejaVu Sans'],
             color='#404040', ha='left', va='baseline')

fig.savefig('out.png', dpi=200)
